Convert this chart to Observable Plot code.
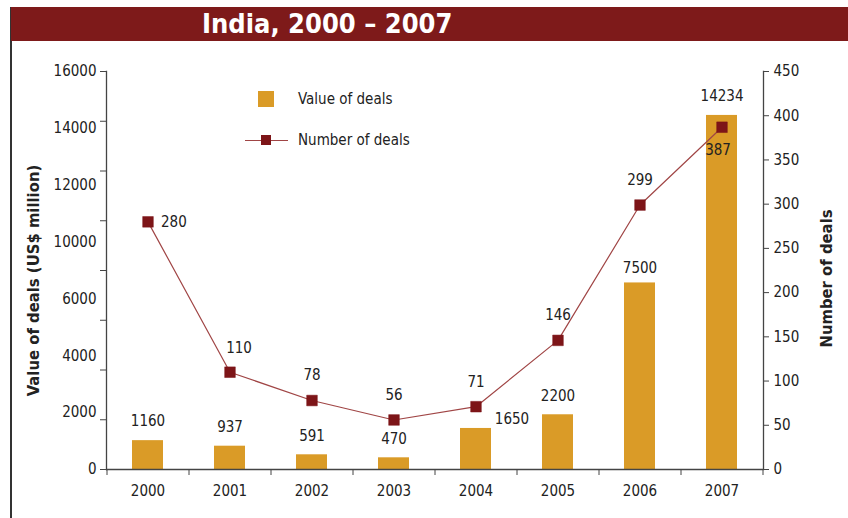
<!DOCTYPE html>
<html>
<head>
<meta charset="utf-8">
<script src="https://cdn.jsdelivr.net/npm/d3@7"></script>
<script src="https://cdn.jsdelivr.net/npm/@observablehq/plot@0.6"></script>
<style>
  html, body { margin: 0; padding: 0; background: #fff; }
  body { width: 848px; height: 518px; position: relative; overflow: hidden;
         font-family: "DejaVu Sans Condensed", "DejaVu Sans", sans-serif; font-stretch: condensed; }
  #border { position: absolute; left: 10px; top: 7px; width: 1.5px; height: 520px; background: #333; }
  #title { position: absolute; left: 11px; right: 0; top: 7px; height: 34px; background: #7E1A1A;
           color: #fff; font-weight: bold; font-size: 27px; line-height: 34px; padding-left: 191px; box-sizing: border-box; white-space: nowrap; }
  #chart { position: absolute; left: 0; top: 41px; }
  #legend { position: absolute; left: 0; top: 0; font-size: 15px; color: #222; }
  .lg { position: absolute; white-space: nowrap; }
</style>
</head>
<body>
<div id="border"></div>
<div id="title">India, 2000 – 2007</div>
<div id="chart"></div>
<div id="legend">
  <div class="lg" style="left:258px;top:91px;width:16px;height:16px;background:#DA9B27"></div>
  <div class="lg" style="left:298px;top:89px;line-height:20px">Value of deals</div>
  <div class="lg" style="left:245px;top:139.5px;width:43px;height:1.2px;background:#A04545"></div>
  <div class="lg" style="left:261px;top:135px;width:10px;height:10px;background:#7D1518"></div>
  <div class="lg" style="left:298px;top:130px;line-height:20px">Number of deals</div>
</div>
<script>
const years = ["2000", "2001", "2002", "2003", "2004", "2005", "2006", "2007"];
const dealValues = [1160, 937, 591, 470, 1650, 2200, 7500, 14234];
const dealCounts = [280, 110, 78, 56, 71, 146, 299, 387];
const leftTickValues = [0, 2000, 4000, 6000, 8000, 10000, 12000, 14000, 16000];
const leftTickLabels = ["0", "2000", "4000", "6000", "10000", "12000", "14000", "16000"];
const rightTickLabels = [0, 50, 100, 150, 200, 250, 300, 350, 400, 450];

const yMax = 16000, countMax = 450;
const toY = n => n * yMax / countMax;

const data = years.map((year, i) => ({year, value: dealValues[i], count: dealCounts[i]}));

// left labels are printed evenly spaced in the original (8000 omitted)
const labelPos = leftTickLabels.map((_, i) => i * yMax / (leftTickLabels.length - 1));
const labelMap = new Map(labelPos.map((p, i) => [p, leftTickLabels[i]]));
const rightPos = rightTickLabels.map(toY);
const rightMap = new Map(rightPos.map((p, i) => [p, String(rightTickLabels[i])]));

const ink = "#222";
const axisInk = "#444";
const chart = Plot.plot({
  width: 848, height: 477,
  marginTop: 30, marginBottom: 49, marginLeft: 106, marginRight: 85,
  style: {fontFamily: '"DejaVu Sans Condensed", "DejaVu Sans", sans-serif', fontSize: "15px", color: ink, background: "transparent", overflow: "visible", fontStretch: "condensed"},
  x: {domain: years, paddingInner: 0.62, paddingOuter: 0.31, align: 0.5, label: null},
  y: {domain: [0, yMax], label: null},
  marks: [
    Plot.barY(data, {x: "year", y: "value", fill: "#DA9B27"}),
    Plot.frame({anchor: "left", stroke: axisInk, strokeWidth: 1.3}),
    Plot.frame({anchor: "right", stroke: axisInk, strokeWidth: 1.3}),
    Plot.axisY(leftTickValues, {anchor: "left", tickSize: 6, tickFormat: () => "", label: null, stroke: axisInk}),
    Plot.axisY(labelPos, {anchor: "left", tickSize: 0, tickPadding: 10, tickFormat: d => labelMap.get(d), label: null, fill: ink}),
    Plot.axisY(rightPos, {anchor: "right", tickSize: 5, tickPadding: 5, tickFormat: d => rightMap.get(d), label: null, fill: ink, stroke: axisInk}),
    Plot.axisX({tickSize: 0, tickPadding: 16, label: null, fill: ink}),
    Plot.axisX({tickSize: 6, tickFormat: () => "", dx: 41, label: null, stroke: axisInk}),
    Plot.axisX(years.slice(0, 1), {tickSize: 6, tickFormat: () => "", dx: -41, label: null, stroke: axisInk}),
    Plot.ruleY([0], {stroke: axisInk, strokeWidth: 1.3}),
    Plot.line(data, {x: "year", y: d => toY(d.count), stroke: "#A04545", strokeWidth: 1.2}),
    Plot.dot(data, {x: "year", y: d => toY(d.count), symbol: "square", r: 6, fill: "#7D1518", stroke: "#7D1518", strokeWidth: 0.5}),
    // bar value labels
    Plot.text(data.filter(d => d.value !== 1650 && d.value !== 7500), {x: "year", y: "value", text: d => String(d.value), dy: -19, fill: ink}),
    Plot.text(data.filter(d => d.value === 7500), {x: "year", y: "value", text: d => String(d.value), dy: -15, fill: ink}),
    Plot.text(data.filter(d => d.value === 1650), {x: "year", y: "value", text: d => String(d.value), dx: 36, dy: -9, fill: ink}),
    // count labels
    Plot.text(data.filter(d => d.count === 280), {x: "year", y: d => toY(d.count), text: d => String(d.count), dx: 13, textAnchor: "start", fill: ink}),
    Plot.text(data.filter(d => d.count === 387), {x: "year", y: d => toY(d.count), text: d => String(d.count), dx: -4, dy: 23, fill: ink}),
    Plot.text(data.filter(d => d.count === 110), {x: "year", y: d => toY(d.count), text: d => String(d.count), dx: 9, dy: -24, fill: ink}),
    Plot.text(data.filter(d => d.count !== 280 && d.count !== 387 && d.count !== 110), {x: "year", y: d => toY(d.count), text: d => String(d.count), dy: -25, fill: ink}),
    // axis titles
    Plot.text(["Value of deals (US$ million)"], {frameAnchor: "left", textAnchor: "middle", text: d => d, rotate: -90, dx: -73, dy: 10, fontSize: 16.5, fontWeight: "bold", fill: ink}),
    Plot.text(["Number of deals"], {frameAnchor: "right", textAnchor: "middle", text: d => d, rotate: -90, dx: 63, dy: 8, fontSize: 16.5, fontWeight: "bold", fill: ink})
  ]
});
document.getElementById("chart").appendChild(chart);
</script>
</body>
</html>
